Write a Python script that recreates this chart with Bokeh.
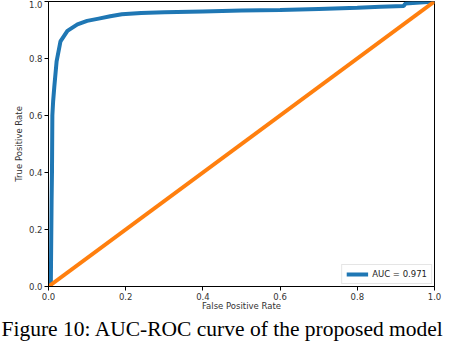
from bokeh.plotting import figure
from bokeh.models import Title, Legend, LegendItem, FixedTicker, Range1d
from bokeh.embed import file_html
from bokeh.resources import INLINE

# ROC curve values
fpr = [0.0, 0.006, 0.008, 0.009, 0.010, 0.012, 0.015, 0.021, 0.031, 0.049,
       0.075, 0.100, 0.130, 0.160, 0.190, 0.240, 0.300, 0.400, 0.500, 0.600,
       0.700, 0.800, 0.860, 0.920, 0.925, 1.0]
tpr = [0.0, 0.0, 0.30, 0.40, 0.60, 0.65, 0.70, 0.79, 0.86, 0.897,
       0.920, 0.932, 0.940, 0.948, 0.955, 0.960, 0.962, 0.965, 0.968, 0.970,
       0.974, 0.978, 0.982, 0.984, 0.993, 1.0]
diag_x = [0.0, 1.0]
diag_y = [0.0, 1.0]
ticks = [0.0, 0.2, 0.4, 0.6, 0.8, 1.0]
legend_label = "AUC = 0.971"
caption = "Figure 10: AUC-ROC curve of the proposed model"

p = figure(width=456, height=342, output_backend="svg", toolbar_location=None,
           x_range=Range1d(0, 1), y_range=Range1d(0, 1),
           min_border_left=48, min_border_right=22, min_border_top=1, min_border_bottom=0)
p.background_fill_color = "white"
p.border_fill_color = "white"
p.outline_line_color = "black"
p.outline_line_width = 1
p.grid.visible = False

blue = p.line(fpr, tpr, line_color="#1f77b4", line_width=4)
p.line(diag_x, diag_y, line_color="#ff7f0e", line_width=4)

legend = Legend(items=[LegendItem(label=legend_label, renderers=[blue])],
                location="bottom_right")
legend.label_text_font = "DejaVu Sans"
legend.label_text_font_size = "8.5px"
legend.label_text_color = "#222222"
legend.glyph_width = 22
legend.glyph_height = 10
legend.label_height = 10
legend.padding = 4
legend.spacing = 0
legend.margin = 2
legend.label_standoff = 4
legend.border_line_color = "#cccccc"
legend.border_line_width = 1
legend.background_fill_alpha = 0.9
p.add_layout(legend)

for ax in (p.xaxis[0], p.yaxis[0]):
    ax.ticker = FixedTicker(ticks=ticks)
    ax.minor_tick_line_color = None
    ax.major_tick_in = 0
    ax.major_tick_out = 4
    ax.major_label_standoff = 2
    ax.major_label_text_font = "DejaVu Sans"
    ax.major_label_text_font_size = "8.5px"
    ax.major_label_text_color = "#333333"
    ax.axis_label_text_font = "DejaVu Sans"
    ax.axis_label_text_font_size = "8.5px"
    ax.axis_label_text_font_style = "normal"
    ax.axis_label_text_color = "#333333"
    ax.axis_label_standoff = -2
    ax.axis_line_color = "black"
    ax.major_tick_line_color = "black"

p.yaxis[0].axis_label_standoff = 2
p.xaxis.axis_label = "False Positive Rate"
p.yaxis.axis_label = "True Positive Rate"
p.xaxis.major_label_overrides = {t: f"{t:.1f}" for t in ticks}
p.yaxis.major_label_overrides = {t: f"{t:.1f}" for t in ticks}

cap = Title(text=caption, align="left", text_font="Liberation Serif",
            text_font_size="21.5px", text_font_style="normal", text_color="black",
            standoff=3, offset=-47)
p.add_layout(cap, "below")

open("out.html", "w").write(file_html(p, INLINE))
